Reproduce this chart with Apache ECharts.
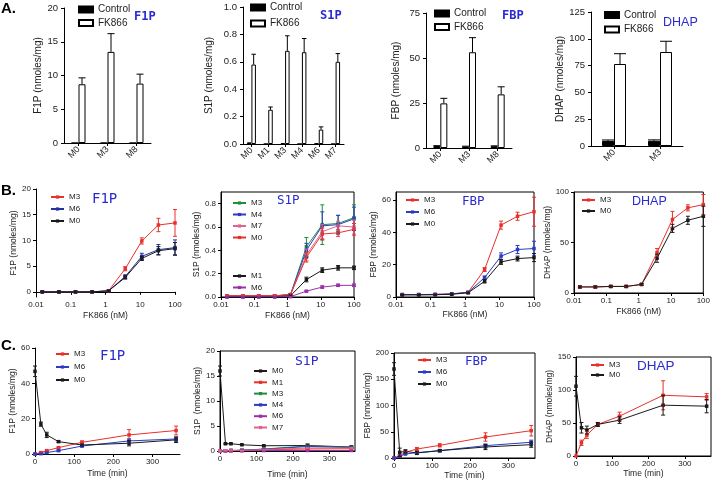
<!DOCTYPE html>
<html><head><meta charset="utf-8">
<script src="https://cdn.jsdelivr.net/npm/echarts@6/dist/echarts.min.js"></script>
<style>html,body{margin:0;padding:0;background:#fff}#c{width:713px;height:483px}</style>
</head><body><div id="c"></div>
<script>
// ---------------- DATA ----------------
// Row A (bar charts)
const aF1P_cats = ['M0','M3','M8'];
const aF1P_ctrl = [0, 0, 0];
const aF1P_ctrlErr = [0, 0, 0];
const aF1P_fk = [8.7, 13.5, 8.8];
const aF1P_fkErr = [0.95, 2.7, 1.4];

const aS1P_cats = ['M0','M1','M3','M4','M6','M7'];
const aS1P_ctrl = [0.012, 0, 0.005, 0, 0.005, 0];
const aS1P_ctrlErr = [0, 0, 0, 0, 0, 0];
const aS1P_fk = [0.58, 0.25, 0.68, 0.67, 0.105, 0.60];
const aS1P_fkErr = [0.075, 0.02, 0.11, 0.10, 0.02, 0.06];

const aFBP_cats = ['M0','M3','M8'];
const aFBP_ctrl = [1.1, 0.8, 1.0];
const aFBP_ctrlErr = [0.2, 0.2, 0.2];
const aFBP_fk = [24.8, 53.2, 29.8];
const aFBP_fkErr = [2.8, 8.1, 4.2];

const aDHAP_cats = ['M0','M3'];
const aDHAP_ctrl = [4.7, 4.8];
const aDHAP_ctrlErr = [0.9, 0.9];
const aDHAP_fk = [76.5, 87.7];
const aDHAP_fkErr = [9.6, 10.0];

// Row B (dose response, FK866 nM)
const doseNM = [0.0152, 0.0457, 0.137, 0.412, 1.23, 3.70, 11.1, 33.3, 100];

const bF1P_M3 = [0, 0, 0, 0, 0.2, 4.5, 9.9, 13.0, 13.4];
const bF1P_M3err = [0.1, 0.1, 0.1, 0.1, 0.1, 0.4, 0.6, 1.3, 2.6];
const bF1P_M6 = [0, 0, 0, 0, 0.2, 3.0, 6.9, 8.2, 8.6];
const bF1P_M6err = [0.1, 0.1, 0.1, 0.1, 0.1, 0.3, 0.6, 1.0, 1.5];
const bF1P_M0 = [0, 0, 0, 0, 0.2, 2.8, 6.5, 8.0, 8.4];
const bF1P_M0err = [0.1, 0.1, 0.1, 0.1, 0.1, 0.3, 0.4, 0.8, 1.2];

const bS1P_M3 = [0.01, 0.01, 0.01, 0.01, 0.02, 0.43, 0.62, 0.63, 0.68];
const bS1P_M3err = [0.005, 0.005, 0.005, 0.005, 0.01, 0.08, 0.17, 0.07, 0.11];
const bS1P_M4 = [0.01, 0.01, 0.01, 0.01, 0.02, 0.40, 0.61, 0.62, 0.67];
const bS1P_M4err = [0.005, 0.005, 0.005, 0.005, 0.01, 0.06, 0.12, 0.08, 0.10];
const bS1P_M7 = [0.01, 0.01, 0.01, 0.01, 0.02, 0.36, 0.56, 0.61, 0.60];
const bS1P_M7err = [0.005, 0.005, 0.005, 0.005, 0.01, 0.05, 0.06, 0.04, 0.06];
const bS1P_M0 = [0.01, 0.01, 0.01, 0.01, 0.02, 0.34, 0.54, 0.55, 0.58];
const bS1P_M0err = [0.005, 0.005, 0.005, 0.005, 0.01, 0.04, 0.05, 0.03, 0.05];
const bS1P_M1 = [0.002, 0.002, 0.002, 0.002, 0.01, 0.15, 0.23, 0.25, 0.25];
const bS1P_M1err = [0.002, 0.002, 0.002, 0.002, 0.005, 0.02, 0.02, 0.02, 0.015];
const bS1P_M6 = [0.001, 0.001, 0.001, 0.001, 0.003, 0.05, 0.085, 0.10, 0.10];
const bS1P_M6err = [0.001, 0.001, 0.001, 0.001, 0.002, 0.005, 0.01, 0.01, 0.01];

const bFBP_M3 = [1.5, 1.5, 1.6, 1.9, 2.9, 17.0, 44.5, 50.0, 52.8];
const bFBP_M3err = [0.3, 0.3, 0.3, 0.3, 0.4, 1.2, 2.5, 2.5, 9.0];
const bFBP_M6 = [1.5, 1.5, 1.6, 1.9, 2.9, 12.0, 25.3, 29.4, 30.0];
const bFBP_M6err = [0.3, 0.3, 0.3, 0.3, 0.4, 1.0, 2.0, 2.5, 4.5];
const bFBP_M0 = [1.3, 1.3, 1.4, 1.7, 2.6, 9.7, 21.7, 23.8, 24.4];
const bFBP_M0err = [0.3, 0.3, 0.3, 0.3, 0.4, 1.0, 1.5, 1.5, 2.5];

const bDHAP_M3 = [6.0, 6.0, 6.5, 6.5, 8.5, 40.0, 72.8, 84.3, 87.5];
const bDHAP_M3err = [0.8, 0.8, 0.8, 0.8, 0.8, 4.0, 8.0, 3.0, 10.0];
const bDHAP_M0 = [6.0, 6.0, 6.5, 6.5, 8.5, 34.4, 64.0, 72.0, 76.0];
const bDHAP_M0err = [0.8, 0.8, 0.8, 0.8, 0.8, 4.0, 4.0, 4.0, 10.0];

// Row C (time course, min)
const timeMin = [0, 15, 30, 60, 120, 240, 360];

const cF1P_M3 = [0, 0.8, 1.9, 3.6, 6.6, 10.8, 13.3];
const cF1P_M3err = [0, 0.3, 0.3, 0.4, 0.8, 3.0, 2.5];
const cF1P_M6 = [0, 0.2, 0.8, 1.9, 4.5, 7.4, 8.5];
const cF1P_M6err = [0, 0.2, 0.3, 0.4, 0.5, 1.2, 1.2];
const cF1P_M0 = [46.8, 16.9, 10.8, 7.0, 5.1, 6.1, 8.0];
const cF1P_M0err = [3.0, 1.2, 1.5, 0.5, 0.5, 1.5, 1.5];

const cS1P_M0 = [16.0, 1.45, 1.45, 1.25, 1.05, 1.1, 0.8];
const cS1P_M0err = [1.0, 0.1, 0.1, 0.1, 0.1, 0.3, 0.2];
const cS1P_M1 = [0, 0.05, 0.1, 0.1, 0.25, 0.4, 0.45];
const cS1P_M1err = [0, 0.02, 0.02, 0.02, 0.05, 0.05, 0.05];
const cS1P_M3 = [0, 0.05, 0.1, 0.15, 0.4, 1.0, 0.75];
const cS1P_M3err = [0, 0.02, 0.02, 0.03, 0.08, 0.15, 0.1];
const cS1P_M4 = [0, 0.05, 0.1, 0.15, 0.35, 0.9, 0.7];
const cS1P_M4err = [0, 0.02, 0.02, 0.03, 0.08, 0.15, 0.1];
const cS1P_M6 = [0, 0.02, 0.03, 0.05, 0.08, 0.1, 0.1];
const cS1P_M6err = [0, 0.01, 0.01, 0.01, 0.02, 0.02, 0.02];
const cS1P_M7 = [0, 0.05, 0.1, 0.12, 0.3, 0.6, 0.6];
const cS1P_M7err = [0, 0.02, 0.02, 0.03, 0.05, 0.1, 0.1];

const cFBP_M3 = [0, 4.4, 10.8, 17.1, 24.1, 40.0, 52.0];
const cFBP_M3err = [0, 2, 2, 3, 3, 8, 10];
const cFBP_M6 = [0, 3.2, 7.6, 10.2, 14.0, 23.5, 30.0];
const cFBP_M6err = [0, 1, 1, 1, 2, 3, 4];
const cFBP_M0 = [169.5, 10.8, 12.7, 9.5, 14.0, 21.0, 25.4];
const cFBP_M0err = [12, 8, 3, 3, 2, 5, 5];

const cDHAP_M3 = [0, 20.0, 31.7, 47.8, 60.4, 92.0, 89.6];
const cDHAP_M3err = [0, 4, 5, 3, 6, 22, 5];
const cDHAP_M0 = [105.7, 42.8, 39.3, 47.8, 54.4, 77.0, 75.5];
const cDHAP_M0err = [15, 8, 6, 3, 5, 15, 10];

// ---------------- STYLE / LAYOUT ----------------
const FONT = 'Liberation Sans, Arial, sans-serif';
const MONO = 'DejaVu Sans Mono, Liberation Mono, monospace';
const BLUE_T = '#2a2ad0';
const RED = '#e8312b', BLK = '#1a1a1a', NAVY = '#24309e', BLU = '#2b3cc0',
      GRN = '#1e8f3c', PINK = '#e2628f', PURP = '#9b30a8';

const chart = echarts.init(document.getElementById('c'), null, {renderer: 'canvas'});

const grids = [], xAxes = [], yAxes = [], series = [], legends = [], graphics = [];

function errBars(gi, xs, ys, es, color, opt) {
  opt = opt || {};
  return {
    type: 'custom', xAxisIndex: gi, yAxisIndex: gi, silent: true, z: 5,
    data: xs.map((x, i) => [x, ys[i], es[i]]),
    renderItem: function (params, api) {
      const x = api.value(0), y = api.value(1), e = api.value(2);
      if (!e) return null;
      const p0 = api.coord([x, y]);
      const hi = api.coord([x, y + e]);
      const lo = opt.upOnly ? p0 : api.coord([x, y - e]);
      const cx = p0[0] + (opt.dx || 0);
      const cw = opt.cap || 2;
      const st = {stroke: color, lineWidth: 1};
      const ch = [
        {type: 'line', shape: {x1: cx, y1: hi[1], x2: cx, y2: lo[1]}, style: st},
        {type: 'line', shape: {x1: cx - cw, y1: hi[1], x2: cx + cw, y2: hi[1]}, style: st}
      ];
      if (!opt.upOnly) ch.push({type: 'line', shape: {x1: cx - cw, y1: lo[1], x2: cx + cw, y2: lo[1]}, style: st});
      return {type: 'group', children: ch};
    }
  };
}

function lineS(gi, key, name, xs, ys, es, color) {
  series.push({
    type: 'line', name: key + '|' + name, xAxisIndex: gi, yAxisIndex: gi,
    data: xs.map((x, i) => [x, ys[i]]),
    symbol: 'rect', symbolSize: 3.5, lineStyle: {color: color, width: 1},
    itemStyle: {color: color}, z: 4, animation: false
  });
  series.push(errBars(gi, xs, ys, es, color, {cap: 2}));
}

const axLine = {show: true, lineStyle: {color: '#000', width: 1}};
const tickS = {show: true, length: 3, lineStyle: {color: '#000', width: 1}};

// ---- Row A: bar panels
function barPanel(gi, rect, cats, ctrl, ctrlErr, fk, fkErr, ymax, yint, yname, nameGap, barW, fmt, legPos) {
  grids.push(Object.assign({containLabel: false}, rect));
  xAxes.push({
    gridIndex: gi, type: 'category', data: cats,
    axisLine: axLine, axisTick: Object.assign({alignWithLabel: true}, tickS),
    axisLabel: {interval: 0, rotate: 45, fontSize: 9, color: '#222', fontFamily: FONT, margin: 5},
    splitLine: {show: false}
  });
  yAxes.push({
    gridIndex: gi, type: 'value', min: 0, max: ymax, interval: yint,
    axisLine: axLine, axisTick: tickS,
    axisLabel: {fontSize: 9.5, color: '#222', fontFamily: FONT, margin: 6, formatter: fmt},
    splitLine: {show: false},
    name: yname, nameLocation: 'middle', nameGap: nameGap,
    nameTextStyle: {fontSize: 10, color: '#222', fontFamily: FONT}
  });
  const k = 'A' + gi;
  series.push({type: 'bar', name: k + '|Control', xAxisIndex: gi, yAxisIndex: gi, data: ctrl,
    barWidth: barW, barGap: '0%', itemStyle: {color: '#000', borderColor: '#000', borderWidth: 1}, animation: false});
  series.push({type: 'bar', name: k + '|FK866', xAxisIndex: gi, yAxisIndex: gi, data: fk,
    barWidth: barW, barGap: '0%', itemStyle: {color: '#fff', borderColor: '#000', borderWidth: 1}, animation: false});
  const idx = cats.map((c, i) => i);
  series.push(errBars(gi, idx, ctrl, ctrlErr, '#000', {upOnly: true, dx: -barW / 2, cap: barW / 2}));
  series.push(errBars(gi, idx, fk, fkErr, '#000', {upOnly: true, dx: barW / 2, cap: barW / 2}));
  legends.push({
    data: [k + '|Control', k + '|FK866'], orient: 'vertical', left: legPos[0], top: legPos[1],
    itemGap: legPos[2], padding: 0, icon: 'rect', itemWidth: 14, itemHeight: 6,
    formatter: n => n.split('|')[1],
    textStyle: {fontSize: 10, color: '#222', fontFamily: FONT}, selectedMode: false
  });
}

barPanel(0, {left: 64, top: 8, width: 87, height: 135}, aF1P_cats, aF1P_ctrl, aF1P_ctrlErr, aF1P_fk, aF1P_fkErr,
  20, 5, 'F1P (nmoles/mg)', 20, 7, null, [78, 4.5, 3.5]);
barPanel(1, {left: 243, top: 7, width: 101, height: 137}, aS1P_cats, aS1P_ctrl, aS1P_ctrlErr, aS1P_fk, aS1P_fkErr,
  1, 0.2, 'S1P (nmoles/mg)', 29, 4.5, v => v.toFixed(1), [250, 2.5, 6]);
barPanel(2, {left: 426, top: 13, width: 86, height: 135}, aFBP_cats, aFBP_ctrl, aFBP_ctrlErr, aFBP_fk, aFBP_fkErr,
  75, 25, 'FBP (nmoles/mg)', 25, 7, null, [434, 8.5, 3.5]);
barPanel(3, {left: 591, top: 12, width: 92, height: 134}, aDHAP_cats, aDHAP_ctrl, aDHAP_ctrlErr, aDHAP_fk, aDHAP_fkErr,
  125, 25, 'DHAP (nmoles/mg)', 26, 12, null, [604, 10, 4.5]);

// ---- Rows B & C: line panels
function linePanel(gi, rect, boxed, xType, xmin, xmax, xTicks, xname, xGap, ymin, ymax, yTicks, yname, yGap, yfmt) {
  grids.push(Object.assign({show: boxed, borderColor: '#000', borderWidth: 1, backgroundColor: 'transparent'}, rect));
  const xa = {
    gridIndex: gi, type: xType, min: xmin, max: xmax,
    axisLine: axLine, axisTick: Object.assign({}, tickS),
    axisLabel: {fontSize: 8, color: '#222', fontFamily: FONT, margin: 4},
    splitLine: {show: false}, minorTick: {show: false},
    name: xname, nameLocation: 'middle', nameGap: xGap,
    nameTextStyle: {fontSize: 8.5, color: '#222', fontFamily: FONT}
  };
  if (xType === 'log') {
    xa.logBase = 10;
    xa.axisLabel.formatter = v => String(+v.toPrecision(2));
  } else {
    xa.axisTick.customValues = xTicks;
    xa.axisLabel.customValues = xTicks;
  }
  xAxes.push(xa);
  yAxes.push({
    gridIndex: gi, type: 'value', min: ymin, max: ymax,
    axisLine: axLine, axisTick: Object.assign({customValues: yTicks}, tickS),
    axisLabel: {customValues: yTicks, fontSize: 8, color: '#222', fontFamily: FONT, margin: 5, formatter: yfmt},
    splitLine: {show: false},
    name: yname, nameLocation: 'middle', nameGap: yGap,
    nameTextStyle: {fontSize: 8.5, color: '#222', fontFamily: FONT}
  });
}
function lineLegend(names, left, top, gap) {
  legends.push({
    data: names, orient: 'vertical', left: left, top: top, itemGap: gap, padding: 0,
    itemWidth: 13, itemHeight: 4, formatter: n => n.split('|')[1],
    textStyle: {fontSize: 8, color: '#222', fontFamily: FONT}, selectedMode: false
  });
}

// B1 F1P
linePanel(4, {left: 36, top: 189, width: 139, height: 108}, false, 'log', 0.01, 100, null, 'FK866 (nM)', 14,
  -1, 20, [0, 5, 10, 15, 20], 'F1P (nmoles/mg)', 18, null);
lineS(4, 'B1', 'M3', doseNM, bF1P_M3, bF1P_M3err, RED);
lineS(4, 'B1', 'M6', doseNM, bF1P_M6, bF1P_M6err, NAVY);
lineS(4, 'B1', 'M0', doseNM, bF1P_M0, bF1P_M0err, BLK);
lineLegend(['B1|M3', 'B1|M6', 'B1|M0'], 50, 193, 4);

// B2 S1P
linePanel(5, {left: 221, top: 192, width: 133, height: 105}, true, 'log', 0.01, 100, null, 'FK866 (nM)', 14,
  0, 0.9, [0, 0.2, 0.4, 0.6, 0.8], 'S1P (nmoles/mg)', 16, v => v.toFixed(1));
lineS(5, 'B2', 'M3', doseNM, bS1P_M3, bS1P_M3err, GRN);
lineS(5, 'B2', 'M4', doseNM, bS1P_M4, bS1P_M4err, BLU);
lineS(5, 'B2', 'M7', doseNM, bS1P_M7, bS1P_M7err, PINK);
lineS(5, 'B2', 'M0', doseNM, bS1P_M0, bS1P_M0err, RED);
lineS(5, 'B2', 'M1', doseNM, bS1P_M1, bS1P_M1err, BLK);
lineS(5, 'B2', 'M6', doseNM, bS1P_M6, bS1P_M6err, PURP);
lineLegend(['B2|M3', 'B2|M4', 'B2|M7', 'B2|M0'], 232, 199, 3.5);
lineLegend(['B2|M1', 'B2|M6'], 232, 272, 3.5);

// B3 FBP
linePanel(6, {left: 396, top: 192, width: 138, height: 105}, true, 'log', 0.01, 100, null, 'FK866 (nM)', 13,
  0, 65, [0, 20, 40, 60], 'FBP (nmoles/mg)', 16, null);
lineS(6, 'B3', 'M3', doseNM, bFBP_M3, bFBP_M3err, RED);
lineS(6, 'B3', 'M6', doseNM, bFBP_M6, bFBP_M6err, BLU);
lineS(6, 'B3', 'M0', doseNM, bFBP_M0, bFBP_M0err, BLK);
lineLegend(['B3|M3', 'B3|M6', 'B3|M0'], 405, 196, 4);

// B4 DHAP
linePanel(7, {left: 574, top: 192, width: 134, height: 101}, true, 'log', 0.01, 100, null, 'FK866 (nM)', 14,
  0, 100, [0, 50, 100], 'DHAP (nmoles/mg)', 15, null);
lineS(7, 'B4', 'M3', doseNM, bDHAP_M3, bDHAP_M3err, RED);
lineS(7, 'B4', 'M0', doseNM, bDHAP_M0, bDHAP_M0err, BLK);
lineLegend(['B4|M3', 'B4|M0'], 581, 196, 3);

// C1 F1P
linePanel(8, {left: 35, top: 348, width: 145, height: 106}, false, 'value', 0, 370, [0, 100, 200, 300], 'Time (min)', 15,
  0, 60, [0, 20, 40, 60], 'F1P (nmoles/mg)', 16, null);
lineS(8, 'C1', 'M3', timeMin, cF1P_M3, cF1P_M3err, RED);
lineS(8, 'C1', 'M6', timeMin, cF1P_M6, cF1P_M6err, BLU);
lineS(8, 'C1', 'M0', timeMin, cF1P_M0, cF1P_M0err, BLK);
lineLegend(['C1|M3', 'C1|M6', 'C1|M0'], 55, 350, 5);

// C2 S1P
linePanel(9, {left: 220, top: 351, width: 135, height: 100}, true, 'value', 0, 370, [0, 100, 200, 300], 'Time (min)', 19,
  0, 20, [0, 5, 10, 15, 20], 'S1P  (nmoles/mg)', 17, null);
lineS(9, 'C2', 'M0', timeMin, cS1P_M0, cS1P_M0err, BLK);
lineS(9, 'C2', 'M1', timeMin, cS1P_M1, cS1P_M1err, RED);
lineS(9, 'C2', 'M3', timeMin, cS1P_M3, cS1P_M3err, GRN);
lineS(9, 'C2', 'M4', timeMin, cS1P_M4, cS1P_M4err, BLU);
lineS(9, 'C2', 'M6', timeMin, cS1P_M6, cS1P_M6err, PURP);
lineS(9, 'C2', 'M7', timeMin, cS1P_M7, cS1P_M7err, PINK);
lineLegend(['C2|M0', 'C2|M1', 'C2|M3', 'C2|M4', 'C2|M6', 'C2|M7'], 253, 367, 3.3);

// C3 FBP
linePanel(10, {left: 394, top: 353, width: 141, height: 105}, true, 'value', 0, 370, [0, 100, 200, 300], 'Time (min)', 13,
  0, 200, [0, 50, 100, 150, 200], 'FBP (nmoles/mg)', 15, null);
lineS(10, 'C3', 'M3', timeMin, cFBP_M3, cFBP_M3err, RED);
lineS(10, 'C3', 'M6', timeMin, cFBP_M6, cFBP_M6err, BLU);
lineS(10, 'C3', 'M0', timeMin, cFBP_M0, cFBP_M0err, BLK);
lineLegend(['C3|M3', 'C3|M6', 'C3|M0'], 417, 356, 4);

// C4 DHAP
linePanel(11, {left: 576, top: 357, width: 135, height: 99}, true, 'value', 0, 372, [0, 100, 200, 300], 'Time (min)', 13,
  0, 150, [0, 50, 100, 150], 'DHAP (nmoles/mg)', 17, null);
lineS(11, 'C4', 'M3', timeMin, cDHAP_M3, cDHAP_M3err, RED);
lineS(11, 'C4', 'M0', timeMin, cDHAP_M0, cDHAP_M0err, BLK);
lineLegend(['C4|M3', 'C4|M0'], 590, 361, 2);

// ---- text labels
function txt(t, x, y, size, fam, color, weight) {
  graphics.push({type: 'text', left: x, top: y, silent: true,
    style: {text: t, fontSize: size, fontFamily: fam, fill: color, fontWeight: weight || 'normal'}});
}
txt('A.', 1, 1, 15, FONT, '#000', 'bold');
txt('B.', 1, 183, 15, FONT, '#000', 'bold');
txt('C.', 1, 338, 15, FONT, '#000', 'bold');
txt('F1P', 134, 11, 12, MONO, BLUE_T, 'bold');
txt('S1P', 320, 10, 12, MONO, BLUE_T, 'bold');
txt('FBP', 502, 10, 12, MONO, BLUE_T, 'bold');
txt('DHAP', 663, 16, 12.5, FONT, BLUE_T);
txt('F1P', 92, 192, 14, MONO, BLUE_T);
txt('S1P', 277, 194, 12.5, MONO, BLUE_T);
txt('FBP', 462, 195, 12.5, MONO, BLUE_T);
txt('DHAP', 632, 195, 12.5, FONT, BLUE_T);
txt('F1P', 100, 349, 14, MONO, BLUE_T);
txt('S1P', 295, 355, 13, MONO, BLUE_T);
txt('FBP', 465, 355, 12.5, MONO, BLUE_T);
txt('DHAP', 637, 359, 13.5, FONT, BLUE_T);

chart.setOption({
  animation: false,
  backgroundColor: '#fff',
  textStyle: {fontFamily: FONT},
  grid: grids, xAxis: xAxes, yAxis: yAxes, series: series, legend: legends, graphic: graphics
});
</script></body></html>
